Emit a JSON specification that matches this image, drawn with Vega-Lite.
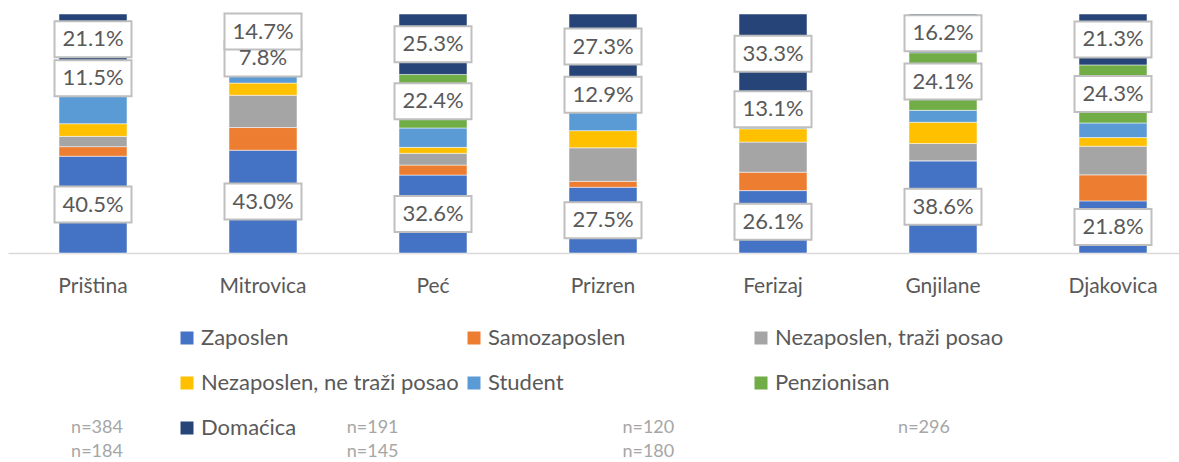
{
  "$schema": "https://vega.github.io/schema/vega-lite/v6.json",
  "autosize": {"type": "none"},
  "padding": {"left": 8, "top": 14, "right": 0, "bottom": 209},
  "width": 1171,
  "height": 239,
  "background": "white",
  "config": {"view": {"stroke": null}, "font": "Lato"},
  "datasets": {
    "shares": [
      {"city": "Priština", "cat": "Zaposlen", "k": 1, "pct": 0.405},
      {"city": "Priština", "cat": "Samozaposlen", "k": 2, "pct": 0.040},
      {"city": "Priština", "cat": "Nezaposlen, traži posao", "k": 3, "pct": 0.043},
      {"city": "Priština", "cat": "Nezaposlen, ne traži posao", "k": 4, "pct": 0.053},
      {"city": "Priština", "cat": "Student", "k": 5, "pct": 0.133},
      {"city": "Priština", "cat": "Penzionisan", "k": 6, "pct": 0.115},
      {"city": "Priština", "cat": "Domaćica", "k": 7, "pct": 0.211},
      {"city": "Mitrovica", "cat": "Zaposlen", "k": 1, "pct": 0.430},
      {"city": "Mitrovica", "cat": "Samozaposlen", "k": 2, "pct": 0.095},
      {"city": "Mitrovica", "cat": "Nezaposlen, traži posao", "k": 3, "pct": 0.135},
      {"city": "Mitrovica", "cat": "Nezaposlen, ne traži posao", "k": 4, "pct": 0.051},
      {"city": "Mitrovica", "cat": "Student", "k": 5, "pct": 0.064},
      {"city": "Mitrovica", "cat": "Penzionisan", "k": 6, "pct": 0.078},
      {"city": "Mitrovica", "cat": "Domaćica", "k": 7, "pct": 0.147},
      {"city": "Peć", "cat": "Zaposlen", "k": 1, "pct": 0.326},
      {"city": "Peć", "cat": "Samozaposlen", "k": 2, "pct": 0.042},
      {"city": "Peć", "cat": "Nezaposlen, traži posao", "k": 3, "pct": 0.049},
      {"city": "Peć", "cat": "Nezaposlen, ne traži posao", "k": 4, "pct": 0.025},
      {"city": "Peć", "cat": "Student", "k": 5, "pct": 0.081},
      {"city": "Peć", "cat": "Penzionisan", "k": 6, "pct": 0.224},
      {"city": "Peć", "cat": "Domaćica", "k": 7, "pct": 0.253},
      {"city": "Prizren", "cat": "Zaposlen", "k": 1, "pct": 0.275},
      {"city": "Prizren", "cat": "Samozaposlen", "k": 2, "pct": 0.025},
      {"city": "Prizren", "cat": "Nezaposlen, traži posao", "k": 3, "pct": 0.140},
      {"city": "Prizren", "cat": "Nezaposlen, ne traži posao", "k": 4, "pct": 0.072},
      {"city": "Prizren", "cat": "Student", "k": 5, "pct": 0.086},
      {"city": "Prizren", "cat": "Penzionisan", "k": 6, "pct": 0.129},
      {"city": "Prizren", "cat": "Domaćica", "k": 7, "pct": 0.273},
      {"city": "Ferizaj", "cat": "Zaposlen", "k": 1, "pct": 0.261},
      {"city": "Ferizaj", "cat": "Samozaposlen", "k": 2, "pct": 0.077},
      {"city": "Ferizaj", "cat": "Nezaposlen, traži posao", "k": 3, "pct": 0.126},
      {"city": "Ferizaj", "cat": "Nezaposlen, ne traži posao", "k": 4, "pct": 0.056},
      {"city": "Ferizaj", "cat": "Student", "k": 5, "pct": 0.016},
      {"city": "Ferizaj", "cat": "Penzionisan", "k": 6, "pct": 0.131},
      {"city": "Ferizaj", "cat": "Domaćica", "k": 7, "pct": 0.333},
      {"city": "Gnjilane", "cat": "Zaposlen", "k": 1, "pct": 0.386},
      {"city": "Gnjilane", "cat": "Samozaposlen", "k": 2, "pct": 0.0},
      {"city": "Gnjilane", "cat": "Nezaposlen, traži posao", "k": 3, "pct": 0.072},
      {"city": "Gnjilane", "cat": "Nezaposlen, ne traži posao", "k": 4, "pct": 0.089},
      {"city": "Gnjilane", "cat": "Student", "k": 5, "pct": 0.050},
      {"city": "Gnjilane", "cat": "Penzionisan", "k": 6, "pct": 0.241},
      {"city": "Gnjilane", "cat": "Domaćica", "k": 7, "pct": 0.162},
      {"city": "Djakovica", "cat": "Zaposlen", "k": 1, "pct": 0.218},
      {"city": "Djakovica", "cat": "Samozaposlen", "k": 2, "pct": 0.109},
      {"city": "Djakovica", "cat": "Nezaposlen, traži posao", "k": 3, "pct": 0.120},
      {"city": "Djakovica", "cat": "Nezaposlen, ne traži posao", "k": 4, "pct": 0.036},
      {"city": "Djakovica", "cat": "Student", "k": 5, "pct": 0.061},
      {"city": "Djakovica", "cat": "Penzionisan", "k": 6, "pct": 0.243},
      {"city": "Djakovica", "cat": "Domaćica", "k": 7, "pct": 0.213}
    ],
    "samples": [
      {"city": "Priština", "n": "n=384", "line": 1, "slot": 1},
      {"city": "Mitrovica", "n": "n=184", "line": 2, "slot": 1},
      {"city": "Peć", "n": "n=191", "line": 1, "slot": 2},
      {"city": "Prizren", "n": "n=145", "line": 2, "slot": 2},
      {"city": "Ferizaj", "n": "n=120", "line": 1, "slot": 3},
      {"city": "Gnjilane", "n": "n=180", "line": 2, "slot": 3},
      {"city": "Djakovica", "n": "n=296", "line": 1, "slot": 4}
    ]
  },
  "layer": [
    {
      "data": {"name": "shares"},
      "layer": [
        {
          "mark": {"type": "bar", "stroke": "white", "strokeWidth": 0.5},
          "encoding": {
            "x": {
              "field": "city", "type": "nominal", "sort": null,
              "scale": {"range": [0, 1190], "paddingInner": 0.6, "paddingOuter": 0.3},
              "axis": {"title": null, "ticks": false, "domainColor": "#d9d9d9", "domainWidth": 1.5, "labelAngle": 0, "labelFontSize": 21, "labelColor": "#595959", "labelPadding": 22, "labelFont": "Lato"}
            },
            "y": {"field": "pct", "type": "quantitative", "stack": "zero", "scale": {"domain": [0, 1], "nice": false}, "axis": null},
            "color": {
              "field": "cat", "type": "nominal",
              "scale": {
                "domain": ["Zaposlen", "Samozaposlen", "Nezaposlen, traži posao", "Nezaposlen, ne traži posao", "Student", "Penzionisan", "Domaćica"],
                "range": ["#4472C4", "#ED7D31", "#A5A5A5", "#FFC000", "#5B9BD5", "#70AD47", "#264478"]
              },
              "legend": {
                "title": null, "orient": "none", "direction": "horizontal", "legendX": 168, "legendY": 313, "columns": 3, "gridAlign": "all",
                "columnPadding": 4, "rowPadding": 23, "padding": 0,
                "symbolType": "square", "symbolSize": 169, "symbolStrokeWidth": 0, "symbolOpacity": 1,
                "labelFontSize": 22, "labelColor": "#595959", "labelFont": "Lato", "labelOffset": 3, "labelLimit": 400
              }
            },
            "order": {"field": "k", "type": "quantitative"}
          }
        },
        {
          "mark": {"type": "point", "shape": "M-1,-0.4675H1V0.4675H-1Z", "size": 5929, "filled": true, "fill": "white", "stroke": "#bfbfbf", "strokeWidth": 2},
          "encoding": {
            "x": {"field": "city", "type": "nominal", "sort": null},
            "y": {"field": "pct", "type": "quantitative", "stack": "zero", "bandPosition": 0.5},
            "order": {"field": "k", "type": "quantitative"},
            "opacity": {"condition": {"test": "indexof(['Zaposlen','Penzionisan','Domaćica'], datum.cat) >= 0", "value": 1}, "value": 0}
          }
        },
        {
          "mark": {"type": "text", "fontSize": 22, "color": "#595959", "font": "Lato", "baseline": "middle", "align": "center"},
          "encoding": {
            "x": {"field": "city", "type": "nominal", "sort": null},
            "y": {"field": "pct", "type": "quantitative", "stack": "zero", "bandPosition": 0.5},
            "order": {"field": "k", "type": "quantitative"},
            "text": {"condition": {"test": "indexof(['Zaposlen','Penzionisan','Domaćica'], datum.cat) >= 0", "field": "pct", "format": ".1%"}, "value": ""}
          }
        }
      ]
    },
    {
      "data": {"name": "samples"},
      "mark": {"type": "text", "fontSize": 18, "color": "#a6a6a6", "font": "Lato", "align": "center", "baseline": "middle"},
      "encoding": {
        "x": {"field": "slot", "type": "quantitative", "scale": {"domain": [1, 4], "range": [89, 916]}, "axis": null},
        "y": {"field": "line", "type": "quantitative", "scale": {"domain": [1, 2], "range": [414, 438]}, "axis": null},
        "text": {"field": "n"}
      }
    }
  ],
  "resolve": {"scale": {"x": "independent", "y": "independent"}}
}
